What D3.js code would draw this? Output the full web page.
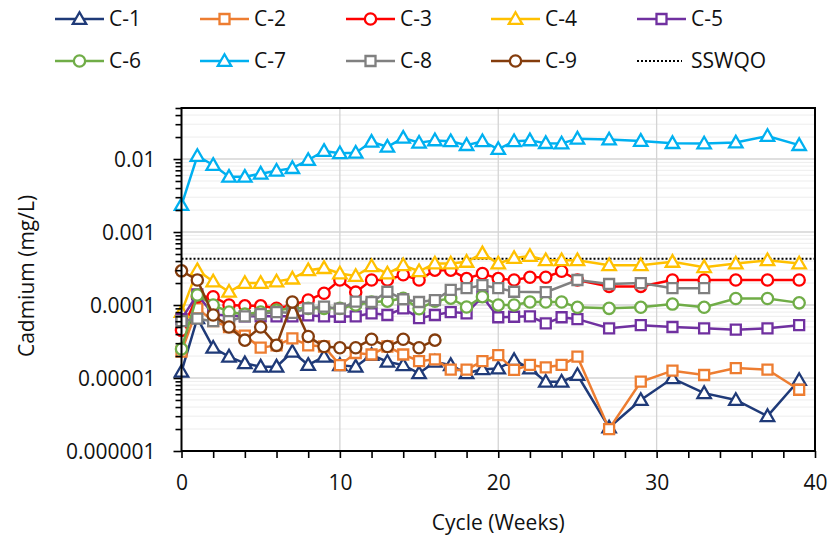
<!DOCTYPE html>
<html>
<head>
<meta charset="utf-8">
<script src="https://cdn.jsdelivr.net/npm/d3@7"></script>
<style>
  body { margin: 0; background: #fff; }
  svg text { font-family: "Open Sans", "Liberation Sans", sans-serif; fill: #111; }
</style>
</head>
<body>
<svg id="chart" width="829" height="541"></svg>
<script>
// weeks sampled
const weeksMain = [0,1,2,3,4,5,6,7,8,9,10,11,12,13,14,15,16,17,18,19,20,21,22,23,24,25,27,29,31,33,35,37,39];
const weeksC8 = [0,1,2,3,4,5,6,7,8,9,10,11,12,13,14,15,16,17,18,19,20,21,23,25,27,29,31,33];
const weeksC9 = [0,1,2,3,4,5,6,7,8,9,10,11,12,13,14,15,16];

// cadmium (mg/L)
const c1 = [0.0000122,0.000066,0.000026,0.0000196,0.0000159,0.0000143,0.0000143,0.0000229,0.0000151,0.0000196,0.000015,0.0000143,0.0000207,0.0000167,0.000015,0.0000116,0.0000167,0.000015,0.0000116,0.0000132,0.0000135,0.0000176,0.0000135,0.0000089,0.0000089,0.000011,0.0000021,0.000005,0.0000099,0.0000062,0.000005,0.000003,0.0000094];
const c2 = [0.000023,0.00009,0.00006,0.00005,0.000038,0.000026,0.000028,0.000035,0.000028,0.000027,0.000015,0.000022,0.000021,0.000027,0.000021,0.000017,0.000018,0.000013,0.000013,0.000017,0.0000206,0.0000129,0.0000151,0.000014,0.0000151,0.0000196,0.000002,0.0000089,0.0000126,0.000011,0.0000137,0.000013,0.0000069];
const c3 = [0.000045,0.00013,0.00013,0.0001,0.0000975,0.0000975,0.00009,0.0001,0.000117,0.000145,0.00022,0.00015,0.00022,0.00022,0.00026,0.00022,0.0003,0.0003,0.00023,0.00027,0.00023,0.00022,0.00024,0.00024,0.00029,0.00022,0.00018,0.00018,0.00022,0.00022,0.00022,0.00022,0.00022];
const c4 = [0.00008,0.0003,0.00021,0.000152,0.0002,0.0002,0.00021,0.00023,0.0003,0.00032,0.00027,0.00025,0.00034,0.00027,0.00035,0.00029,0.00037,0.00037,0.00039,0.00051,0.00037,0.00044,0.00047,0.00041,0.00041,0.00041,0.00035,0.00035,0.00039,0.00033,0.00037,0.00041,0.00037];
const c5 = [0.000064,0.00014,0.000074,0.000072,0.00007,0.00007,0.00007,0.00007,0.000072,0.00007,0.000069,0.00007,0.000077,0.000073,0.00009,0.000066,0.000073,0.00008,0.000077,0.00013,0.000068,0.000069,0.00007,0.000056,0.000068,0.000064,0.000048,0.000053,0.00005,0.000048,0.000046,0.000048,0.000053];
const c6 = [0.000025,0.000137,0.0001,0.00008,0.000075,0.00008,0.000085,0.00009,0.00009,0.00009,0.00009,0.0001,0.00011,0.000113,0.000124,0.000089,0.000113,0.000124,0.000094,0.00013,0.0001,0.0001,0.00011,0.00011,0.00011,0.000093,0.00009,0.000093,0.000103,0.000093,0.000123,0.000123,0.000107];
const c7 = [0.00234,0.011,0.0083,0.0057,0.0057,0.0063,0.0069,0.0075,0.0097,0.0129,0.012,0.0122,0.0172,0.0147,0.0195,0.0167,0.018,0.0175,0.0155,0.0175,0.0137,0.0175,0.018,0.0165,0.0163,0.019,0.0185,0.0177,0.0165,0.0163,0.0168,0.0207,0.0155];
const c8 = [0.00006,0.000065,0.00006,0.00006,0.00007,0.000075,0.00008,0.000078,0.00009,0.000095,0.000089,0.000111,0.00011,0.000152,0.00012,0.00011,0.000117,0.000161,0.00017,0.000187,0.00017,0.000152,0.00015,0.00022,0.000194,0.0002,0.00017,0.00017];
const c9 = [0.000294,0.00022,0.000073,0.00005,0.000033,0.00005,0.000028,0.00011,0.000037,0.000027,0.000026,0.000026,0.000034,0.000027,0.000034,0.000026,0.000033];
const sswqo = 0.00043;

const names = ["C-1","C-2","C-3","C-4","C-5","C-6","C-7","C-8","C-9"];
const colors = ["#1F3A78","#ED7D31","#FF0000","#FFC000","#7030A0","#70AD47","#00B0F0","#808080","#843C0C"];
const shapes = ["tri","sq","circ","tri","sq","circ","tri","sq","circ"];
const yMajor = [1e-6,1e-5,1e-4,1e-3,1e-2];
const yLabels = ["0.000001","0.00001","0.0001","0.001","0.01"];

const series = [
  {w: weeksMain, v: c1}, {w: weeksMain, v: c2}, {w: weeksMain, v: c3},
  {w: weeksMain, v: c4}, {w: weeksMain, v: c5}, {w: weeksMain, v: c6},
  {w: weeksMain, v: c7}, {w: weeksC8, v: c8}, {w: weeksC9, v: c9}
].map((s, i) => ({name: names[i], color: colors[i], shape: shapes[i],
  pts: s.w.map((w, j) => ({x: w, y: s.v[j]}))}));

const plotL = 181.5, plotR = 815, plotT = 108, plotB = 451;
const x = d3.scaleLinear().domain([0, 40]).range([plotL, plotR]);
const y = d3.scaleLog().domain([1e-6, 0.05]).range([plotB, plotT]);

const svg = d3.select('#chart');

// minor values on the log axis
let yMinor = [];
for (let e = -6; e <= -2; e++) {
    for (let k = 2; k <= 9; k++) {
        let v = k * Math.pow(10, e);
        if (v <= 0.05 + 1e-12) yMinor.push(v);
    }
}

// grid
svg.append('g').selectAll('line').data(yMinor).enter().append('line')
    .attr('x1', plotL).attr('x2', plotR)
    .attr('y1', d => y(d)).attr('y2', d => y(d))
    .style('stroke', '#EDEDED').style('stroke-width', 1);
svg.append('g').selectAll('line').data(yMajor).enter().append('line')
    .attr('x1', plotL).attr('x2', plotR)
    .attr('y1', d => y(d)).attr('y2', d => y(d))
    .style('stroke', '#D4D4D4').style('stroke-width', 1.3);
svg.append('g').selectAll('line').data([10, 20, 30]).enter().append('line')
    .attr('x1', d => x(d)).attr('x2', d => x(d))
    .attr('y1', plotT).attr('y2', plotB)
    .style('stroke', '#D4D4D4').style('stroke-width', 1.3);

// SSWQO
svg.append('line')
    .attr('x1', x(0)).attr('x2', x(40))
    .attr('y1', y(sswqo)).attr('y2', y(sswqo))
    .style('stroke', '#000').style('stroke-width', 2).style('stroke-dasharray', '2,2');

function marker(sel, shape, color) {
    let sym = shape === 'tri' ? d3.symbolTriangle : shape === 'sq' ? d3.symbolSquare : d3.symbolCircle;
    let size = shape === 'tri' ? 78 : shape === 'sq' ? 100 : 100;
    sel.attr('d', d3.symbol().type(sym).size(size))
        .style('fill', '#fff')
        .style('stroke', color)
        .style('stroke-width', 2.3);
}

const line = d3.line().x(d => x(d.x)).y(d => y(d.y));

series.forEach(s => {
    let g = svg.append('g');
    g.append('path').datum(s.pts).attr('d', line)
        .style('fill', 'none').style('stroke', s.color).style('stroke-width', 2.5);
    g.selectAll('path.m').data(s.pts).enter().append('path')
        .attr('class', 'm')
        .attr('transform', d => 'translate(' + x(d.x) + ',' + (y(d.y) + (s.shape === 'tri' ? 1 : 0)) + ')')
        .call(marker, s.shape, s.color);
});

// frame
svg.append('rect').attr('x', plotL).attr('y', plotT)
    .attr('width', plotR - plotL).attr('height', plotB - plotT)
    .style('fill', 'none').style('stroke', '#000').style('stroke-width', 2);

// y axis
let yAxisMinor = svg.append('g').attr('transform', 'translate(' + plotL + ',0)')
    .call(d3.axisLeft(y).tickValues(yMinor).tickSize(6).tickFormat(''));
let yAxis = svg.append('g').attr('transform', 'translate(' + plotL + ',0)')
    .call(d3.axisLeft(y).tickValues(yMajor).tickSize(8).tickPadding(18)
        .tickFormat((d, i) => yLabels[i]));
[yAxisMinor, yAxis].forEach(a => {
    a.select('.domain').remove();
    a.selectAll('line').style('stroke', '#000').style('stroke-width', 1.6);
});
yAxis.selectAll('text').style('font-size', '21px').attr('dy', '0.35em');

// x axis
let xAxis = svg.append('g').attr('transform', 'translate(0,' + plotB + ')')
    .call(d3.axisBottom(x).tickValues(d3.range(0, 41, 2)).tickSize(7).tickPadding(17)
        .tickFormat(d => d % 10 === 0 ? d : ''));
xAxis.select('.domain').remove();
xAxis.selectAll('line').style('stroke', '#000').style('stroke-width', 1.6);
xAxis.selectAll('text').style('font-size', '21px');

// axis titles
svg.append('text')
    .attr('text-anchor', 'middle')
    .attr('transform', 'translate(' + 34 + ',' + 276 + ')rotate(-90)')
    .style('font-size', '21px')
    .text('Cadmium (mg/L)');
svg.append('text')
    .attr('text-anchor', 'middle')
    .attr('x', (plotL + plotR) / 2).attr('y', 530)
    .style('font-size', '21px')
    .text('Cycle (Weeks)');

// legend
const legX = [55, 200, 346, 491, 637];
const legY = [19, 61];
const legItems = series.map(s => ({name: s.name, color: s.color, shape: s.shape}))
    .concat([{name: 'SSWQO', color: '#000', shape: 'dot'}]);
legItems.forEach((d, i) => {
    let gx = legX[i % 5], gy = legY[Math.floor(i / 5)];
    let g = svg.append('g').attr('transform', 'translate(' + gx + ',' + gy + ')');
    if (d.shape === 'dot') {
        g.append('line').attr('x1', 0).attr('x2', 45).attr('y1', 0).attr('y2', 0)
            .style('stroke', '#000').style('stroke-width', 2).style('stroke-dasharray', '2,2');
        g.append('text').attr('x', 54).attr('dy', '0.35em').style('font-size', '21px').text(d.name);
        return;
    }
    g.append('line').attr('x1', 0).attr('x2', 49).attr('y1', 0).attr('y2', 0)
        .style('stroke', d.color).style('stroke-width', 2.5);
    g.append('path').attr('transform', 'translate(24.5,' + (d.shape === 'tri' ? 1 : 0) + ')')
        .call(marker, d.shape, d.color);
    g.append('text').attr('x', 54).attr('dy', '0.35em').style('font-size', '21px').text(d.name);
});
</script>
</body>
</html>
